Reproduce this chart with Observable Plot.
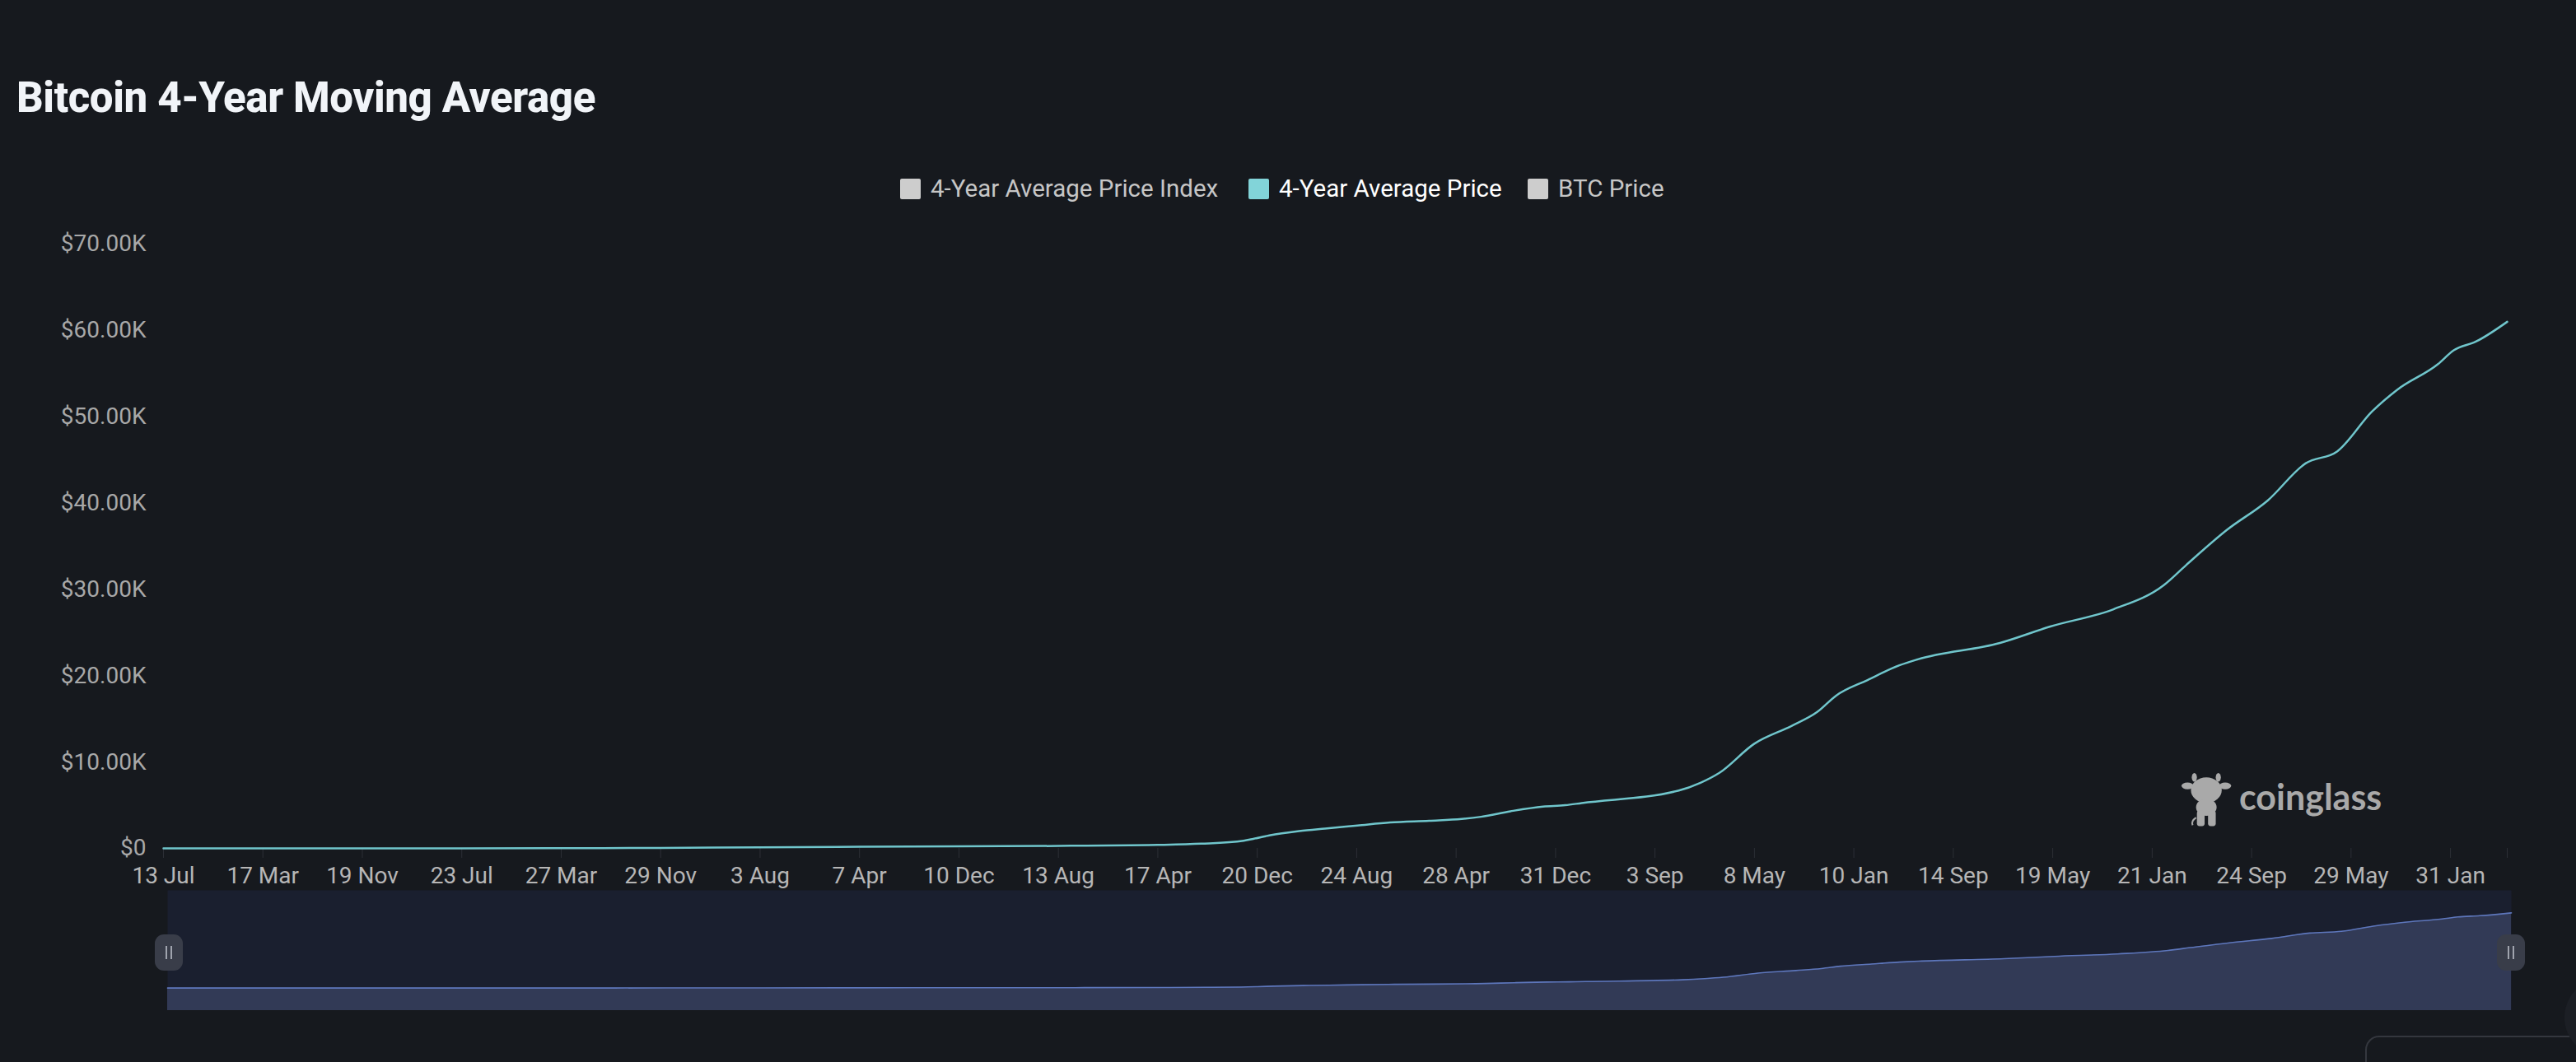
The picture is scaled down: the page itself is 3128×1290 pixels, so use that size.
<!DOCTYPE html>
<html><head><meta charset="utf-8">
<script src="https://cdn.jsdelivr.net/npm/d3@7"></script>
<script src="https://cdn.jsdelivr.net/npm/@observablehq/plot@0.6"></script>
<style>
html,body{margin:0;padding:0;background:#16191e;width:3128px;height:1290px;overflow:hidden;}
#root{position:relative;width:3128px;height:1290px;}
.abs{position:absolute;}
.handle{position:absolute;width:34px;height:44px;border-radius:11px;background:#393d49;}
.handle::before,.handle::after{content:"";position:absolute;top:14px;width:2px;height:16px;background:#a0a4ae;}
.handle::before{left:13px;} .handle::after{left:19px;}
</style></head><body><div id="root"></div>
<script>
// ---------- data ----------
const dates = [
  "2010-07-13","2011-03-17","2011-11-19","2012-07-23","2013-03-27","2013-11-29","2014-08-03",
  "2015-04-07","2015-12-10","2016-08-13","2016-09-13","2017-04-17","2017-08-03","2017-11-16",
  "2017-12-10","2018-01-19","2018-04-03","2018-06-06","2018-08-26","2018-11-15","2019-02-20",
  "2019-05-12","2019-06-29","2019-09-10","2019-11-30","2020-01-24","2020-03-05","2020-11-01",
  "2020-12-25","2021-02-10","2021-05-07","2021-08-09","2021-10-11","2021-11-27","2022-02-13",
  "2022-05-03","2022-06-18","2023-01-08","2023-05-13","2023-10-17","2024-02-19","2024-04-14",
  "2024-07-25","2024-11-03","2025-02-05","2025-04-25","2025-07-20","2025-09-20","2025-12-31",
  "2026-02-08","2026-04-04","2026-06-21"
];
const avgPrice = [
  0, 1, 2, 5, 15, 50, 130,
  190, 230, 280, 300, 400, 540, 890,
  1100, 1500, 2000, 2300, 2650, 3000, 3200,
  3400, 3660, 4300, 4850, 5000, 5250, 6700,
  7600, 8750, 12100, 14200, 15800, 17700, 19500,
  21200, 21900, 23800, 25700, 27700, 30500, 32800,
  36900, 40300, 44600, 46000, 50600, 53100, 56100,
  57700, 58700, 61000
];
const xTickDates = [
  "2010-07-13","2011-03-17","2011-11-19","2012-07-23","2013-03-27","2013-11-29","2014-08-03",
  "2015-04-07","2015-12-10","2016-08-13","2017-04-17","2017-12-20","2018-08-24","2019-04-28",
  "2019-12-31","2020-09-03","2021-05-08","2022-01-10","2022-09-14","2023-05-19","2024-01-21",
  "2024-09-24","2025-05-29","2026-01-31"
];
const yTicks = [0, 10000, 20000, 30000, 40000, 50000, 60000, 70000];
const legendNames = ["4-Year Average Price Index", "4-Year Average Price", "BTC Price"];
const legendActive = [false, true, false];
const titleText = "Bitcoin 4-Year Moving Average";
const watermarkText = "coinglass";

// ---------- build ----------
const parse = d3.utcParse("%Y-%m-%d");
const data = dates.map((d, i) => ({date: parse(d), value: avgPrice[i]}));
const xDomain = [data[0].date, data[data.length - 1].date];
const tickDates = xTickDates.map(parse);
const fmtDay = d3.utcFormat("%-d %b");
const fmtY = v => v === 0 ? "$0" : "$" + (v / 1000).toFixed(2) + "K";
const LINE = "#70c6cc";
const root = document.getElementById("root");

const main = Plot.plot({
  width: 3128, height: 820,
  marginLeft: 198, marginRight: 84, marginTop: 36, marginBottom: 50,
  style: {background: "transparent", fontFamily: "Roboto, sans-serif", overflow: "visible"},
  x: {type: "utc", domain: xDomain},
  y: {domain: [0, 70000]},
  marks: [
    Plot.axisY({ticks: yTicks, tickSize: 0, tickPadding: 21, tickFormat: fmtY,
      fill: "#a8a8a8", fontSize: 28, label: null}),
    Plot.axisX({ticks: [...tickDates, xDomain[1]], tickSize: 12, tickPadding: 11,
      tickFormat: d => +d === +xDomain[1] ? "" : fmtDay(d),
      stroke: "#2c2f36", fill: "#b6b6b6", fontSize: 28, label: null}),
    Plot.lineY(data, {x: "date", y: "value", stroke: LINE, strokeWidth: 2.5, curve: "monotone-x"})
  ]
});
main.classList.add("abs");
main.style.left = "0px"; main.style.top = "260px";
root.appendChild(main);

const vMax = d3.max(avgPrice), vMin = d3.min(avgPrice);
const pad = (vMax - vMin) * 0.3;
const slider = Plot.plot({
  width: 3128, height: 146,
  marginLeft: 203, marginRight: 79, marginTop: 0, marginBottom: 0,
  style: {background: "transparent"},
  x: {type: "utc", domain: xDomain, axis: null},
  y: {domain: [vMin - pad, vMax + pad], axis: null},
  marks: [
    Plot.frame({fill: "#1a1f2f", stroke: "none"}),
    Plot.areaY(data, {x: "date", y1: vMin - pad, y2: "value", fill: "#323a56", curve: "monotone-x"}),
    Plot.lineY(data, {x: "date", y: "value", stroke: "#5d76bb", strokeWidth: 1.6, curve: "monotone-x"})
  ]
});
slider.classList.add("abs");
slider.style.left = "0px"; slider.style.top = "1081px";
root.appendChild(slider);

// slider handles
[188, 3032].forEach(x => {
  const h = document.createElement("div");
  h.className = "handle";
  h.style.left = x + "px"; h.style.top = "1135px";
  root.appendChild(h);
});

// overlay: title, legend, watermark
const ov = d3.select(root).append("svg").attr("class", "abs")
  .attr("width", 3128).attr("height", 1290)
  .style("left", "0px").style("top", "0px").style("pointer-events", "none");

ov.append("text").text(titleText)
  .attr("x", 20).attr("y", 136)
  .attr("font-family", "Roboto, sans-serif").attr("font-weight", 800).attr("font-size", 51)
  .attr("letter-spacing", -0.4)
  .attr("fill", "#f1f4f8");

const legendX = [1093, 1516, 1855];
legendNames.forEach((name, i) => {
  ov.append("rect").attr("x", legendX[i]).attr("y", 217).attr("width", 25).attr("height", 25)
    .attr("rx", 2).attr("fill", legendActive[i] ? "#82d4d9" : "#cdcdcd");
  ov.append("text").text(name).attr("x", legendX[i] + 37).attr("y", 239)
    .attr("font-family", "Roboto, sans-serif").attr("font-size", 29.5)
    .attr("fill", legendActive[i] ? "#ffffff" : "#c6c6c6");
});

// watermark
const wm = ov.append("g").attr("transform", "translate(2650,939) scale(1.04)").attr("fill", "#a9a9a9");
wm.append("ellipse").attr("cx", 14).attr("cy", 5).attr("rx", 3).attr("ry", 5);
wm.append("ellipse").attr("cx", 42).attr("cy", 5).attr("rx", 3).attr("ry", 5);
wm.append("ellipse").attr("cx", 6).attr("cy", 15).attr("rx", 7).attr("ry", 4);
wm.append("ellipse").attr("cx", 50).attr("cy", 15).attr("rx", 7).attr("ry", 4);
wm.append("ellipse").attr("cx", 28).attr("cy", 20).attr("rx", 18).attr("ry", 15);
wm.append("ellipse").attr("cx", 28).attr("cy", 40).attr("rx", 12).attr("ry", 10);
wm.append("rect").attr("x", 17).attr("y", 44).attr("width", 9).attr("height", 18).attr("rx", 3);
wm.append("rect").attr("x", 30).attr("y", 44).attr("width", 9).attr("height", 18).attr("rx", 3);
wm.append("path").attr("d", "M16 52 Q10 56 12 61").attr("stroke", "#a9a9a9").attr("stroke-width", 2).attr("fill", "none");
ov.append("text").text(watermarkText).attr("x", 2719).attr("y", 984)
  .attr("font-family", "Lato, sans-serif").attr("font-weight", 700).attr("font-size", 43)
  .attr("fill", "#a9a9a9");

// bottom-right page fragments
ov.append("rect").attr("x", 2873).attr("y", 1259).attr("width", 300).attr("height", 80)
  .attr("rx", 16).attr("fill", "none").attr("stroke", "#34373e").attr("stroke-width", 2);
ov.append("circle").attr("cx", 3162).attr("cy", 1236).attr("r", 48).attr("fill", "#1c1f25");
</script></body></html>
